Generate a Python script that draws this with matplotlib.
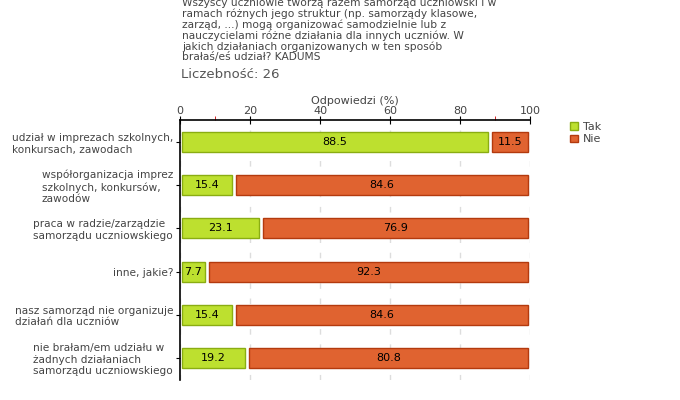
import matplotlib.pyplot as plt
import numpy as np

# Dane
kategorie = ['udział w imprezach szkolnych,\nkonkursach, zawodach',
             'współorganizacja imprez\nszkolnych, konkursów,\nzawodów',
             'praca w radzie/zarządzie\nsamorządu uczniowskiego',
             'inne, jakie?',
             'nasz samorząd nie organizuje\ndziałań dla uczniów',
             'nie brałam/em udziału w\nżadnych działaniach\nsamorządu uczniowskiego']
tak = [88.5, 15.4, 23.1, 7.7, 15.4, 19.2]
nie = [11.5, 84.6, 76.9, 92.3, 84.6, 80.8]
serie = ['Tak', 'Nie']

pytanie = ['Wszyscy uczniowie tworzą razem samorząd uczniowski i w',
           'ramach różnych jego struktur (np. samorządy klasowe,',
           'zarząd, ...) mogą organizować samodzielnie lub z',
           'nauczycielami różne działania dla innych uczniów. W',
           'jakich działaniach organizowanych w ten sposób',
           'brałaś/eś udział? KADUMS']
liczebnosc = 'Liczebność: 26'

kolor_tak, krawedz_tak = '#BDE02F', '#8AAD12'
kolor_nie, krawedz_nie = '#E06330', '#B33A0E'

fig = plt.figure(figsize=(6.8, 4.0), dpi=100)
ax = fig.add_axes([180 / 680, 0.05, 350 / 680, 0.65])

y = np.arange(len(kategorie))
tak = np.array(tak)
nie = np.array(nie)
odstep = 0.6  # mała przerwa między segmentami

ax.barh(y, tak - 2 * odstep, left=odstep, height=0.46,
        color=kolor_tak, edgecolor=krawedz_tak, linewidth=1, label=serie[0], zorder=3)
ax.barh(y, nie - 2 * odstep, left=tak + odstep, height=0.46,
        color=kolor_nie, edgecolor=krawedz_nie, linewidth=1, label=serie[1], zorder=3)

for i in range(len(y)):
    ax.text(tak[i] / 2, y[i], f'{tak[i]:.1f}', ha='center', va='center',
            fontsize=8, color='black', zorder=4)
    ax.text(tak[i] + nie[i] / 2, y[i], f'{nie[i]:.1f}', ha='center', va='center',
            fontsize=8, color='black', zorder=4)

ax.set_xlim(0, 100)
ax.set_ylim(len(kategorie) - 0.49, -0.51)
ax.set_xticks(np.arange(0, 101, 20))
ax.xaxis.tick_top()
ax.tick_params(axis='x', direction='inout', length=6, labelsize=8,
               labelcolor='#444444', pad=0)
ax.set_yticks(y)
ax.set_yticklabels(kategorie, fontsize=7.6, color='#444444', multialignment='left')
ax.tick_params(axis='y', direction='out', length=3, pad=2)
ax.grid(axis='x', linestyle=(0, (4, 7)), color='#DDDDDD', linewidth=1, zorder=0)
ax.set_xticks([10, 90], minor=True)
ax.tick_params(axis='x', which='minor', length=3, color='#CC0000', direction='out')

for s in ['right', 'bottom']:
    ax.spines[s].set_visible(False)
ax.spines['top'].set_linewidth(1.2)
ax.spines['left'].set_linewidth(1.2)

ax.set_xlabel('Odpowiedzi (%)', fontsize=8, color='#444444', labelpad=1)
ax.xaxis.set_label_position('top')

# Treść pytania (pierwsza linia częściowo ucięta jak w oryginale)
for k, linia in enumerate(pytanie):
    fig.text(182 / 680, 1 - (3.3 + 10.8 * k) / 400, linia, fontsize=7.7,
             color='#444444', va='center', ha='left')
fig.text(181 / 680, 1 - 75 / 400, liczebnosc, fontsize=9.5, color='#555555',
         va='center', ha='left')

ax.legend(loc='upper left', bbox_to_anchor=(1.085, 1.03), frameon=False,
          fontsize=8, handlelength=0.7, handleheight=0.7, handletextpad=0.5,
          labelspacing=0.2, labelcolor='#444444')

fig.savefig('out.png', dpi=100)
